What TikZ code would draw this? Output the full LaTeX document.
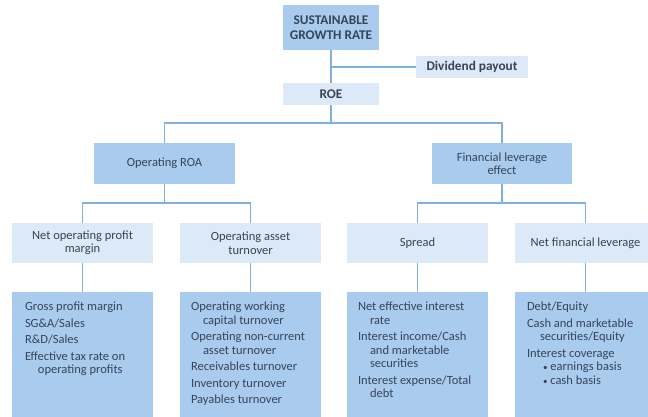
\documentclass[tikz,border=0pt]{standalone}
\usepackage{fontspec}
\setmainfont{Carlito}
\definecolor{darkbox}{HTML}{A9CCEE}
\definecolor{lightbox}{HTML}{DCE9F6}
\definecolor{linecol}{HTML}{7FB0E0}
\definecolor{txt}{HTML}{36445A}
\tikzset{
  box/.style={rectangle, inner sep=0pt, align=center, text=txt,
    font=\fontsize{12.5}{13.5}\selectfont},
  darkb/.style={box, fill=darkbox},
  lightb/.style={box, fill=lightbox},
  topfont/.style={font=\fontsize{13.3}{15}\selectfont\bfseries},
  conn/.style={draw=linecol, line width=1.4pt},
  listtxt/.style={inner sep=0pt, align=left, text=txt, anchor=north west,
    font=\fontsize{12.5}{13.5}\selectfont}
}
\begin{document}
\begin{tikzpicture}[x=1pt,y=-1pt]
\useasboundingbox (0,0) rectangle (648,417);
\clip (0,0) rectangle (648,417);
% top level
\node[darkb, minimum width=96pt, minimum height=45pt, topfont] (sgr) at (331,27.5) {SUSTAINABLE\\GROWTH RATE};
\node[lightb, minimum width=112pt, minimum height=22pt, topfont] (div) at (472,67) {Dividend payout};
\node[lightb, minimum width=96pt, minimum height=22pt, topfont] (roe) at (331,94) {ROE};
% second level
\node[darkb, minimum width=141pt, minimum height=41pt] (oroa) at (164.5,163.5) {Operating ROA};
\node[darkb, minimum width=140pt, minimum height=41pt] (fle) at (502,163.5) {Financial leverage\\effect};
% third level
\node[lightb, minimum width=141pt, minimum height=40pt] (nopm) at (82.5,243) {Net operating profit\\margin};
\node[lightb, minimum width=141pt, minimum height=40pt] (oat) at (250.5,243) {Operating asset\\turnover};
\node[lightb, minimum width=141pt, minimum height=40pt] (spr) at (417.5,243) {Spread};
\node[lightb, minimum width=141pt, minimum height=40pt] (nfl) at (585.5,243) {Net financial leverage};
% bottom boxes
\node[darkb, minimum width=141pt, minimum height=140pt] (b1) at (82.5,362) {};
\node[darkb, minimum width=141pt, minimum height=140pt] (b2) at (250.5,362) {};
\node[darkb, minimum width=141pt, minimum height=140pt] (b3) at (417.5,362) {};
\node[darkb, minimum width=141pt, minimum height=140pt] (b4) at (585.5,362) {};
\node[listtxt] (t1) at ([xshift=13pt,yshift=-10pt]b1.north west) {Gross profit margin\\[3pt]SG\&A/Sales\\[3pt]R\&D/Sales\\[3pt]Effective tax rate on\\\hspace*{13pt}operating profits};
\node[listtxt] (t2) at ([xshift=11pt,yshift=-10pt]b2.north west) {Operating working\\\hspace*{12pt}capital turnover\\[3pt]Operating non-current\\\hspace*{12pt}asset turnover\\[3pt]Receivables turnover\\[3pt]Inventory turnover\\[3pt]Payables turnover};
\node[listtxt] (t3) at ([xshift=11pt,yshift=-10pt]b3.north west) {Net effective interest\\\hspace*{12pt}rate\\[3pt]Interest income/Cash\\\hspace*{12pt}and marketable\\\hspace*{12pt}securities\\[3pt]Interest expense/Total\\\hspace*{12pt}debt};
\node[listtxt] (t4) at ([xshift=12pt,yshift=-10pt]b4.north west) {Debt/Equity\\[3pt]Cash and marketable\\\hspace*{13pt}securities/Equity\\[3pt]Interest coverage\\\hspace*{16pt}{\small\textbullet}\ earnings basis\\\hspace*{16pt}{\small\textbullet}\ cash basis};
% connectors
\coordinate (j0) at (331,67);
\coordinate (j1) at (331,123);
\coordinate (j2) at (164.5,203);
\coordinate (j3) at (502,203);
\draw[conn] (sgr.south) -- (roe.north);
\draw[conn] (div.west) -- (j0);
\draw[conn] (roe.south) -- (j1);
\draw[conn] (oroa.north) |- (j1) -| (fle.north);
\draw[conn] (oroa.south) -- (j2);
\draw[conn] (nopm.north) |- (j2) -| (oat.north);
\draw[conn] (fle.south) -- (j3);
\draw[conn] (spr.north) |- (j3) -| (nfl.north);
\draw[conn] (nopm.south) -- (b1.north);
\draw[conn] (oat.south) -- (b2.north);
\draw[conn] (spr.south) -- (b3.north);
\draw[conn] (nfl.south) -- (b4.north);
\end{tikzpicture}
\end{document}
